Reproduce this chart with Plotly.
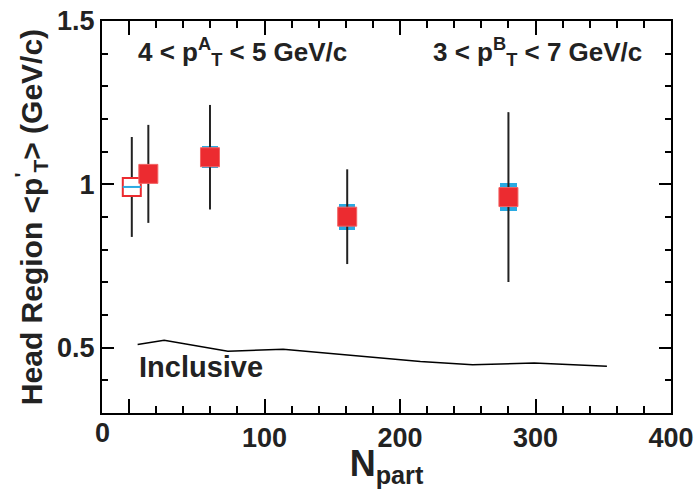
import plotly.graph_objects as go

# ---- data ----
PP_NPART = [2.0]
PP_PT = [0.992]
PP_STAT = [0.153]

AA_NPART = [14.2, 59.7, 161.0, 280.0]
AA_PT = [1.032, 1.083, 0.901, 0.961]
AA_STAT = [0.150, 0.160, 0.145, 0.260]
AA_SYS = [0.020, 0.034, 0.040, 0.044]

INCL_NPART = [6.3, 25.9, 72.9, 113.7, 215.0, 253.5, 299.0, 352.7]
INCL_PT = [0.510, 0.523, 0.489, 0.495, 0.458, 0.448, 0.453, 0.443]

X_TICKS = [0, 100, 200, 300, 400]
X_TICKTEXT = ["", "100", "200", "300", "400"]
Y_TICKS = [0.5, 1.0, 1.5]
Y_TICKTEXT = ["0.5", "1", "1.5"]

RED = "#EC2B30"
CYAN = "#2AAAE2"
INK = "#222222"
FONT = "Liberation Sans"

fig = go.Figure()

# systematic boxes
fig.add_trace(go.Bar(
    x=AA_NPART,
    y=[2 * s for s in AA_SYS],
    base=[v - s for v, s in zip(AA_PT, AA_SYS)],
    width=12,
    marker=dict(color=CYAN, line=dict(width=0)),
    showlegend=False, hoverinfo="skip",
))

# inclusive line
fig.add_trace(go.Scatter(
    x=INCL_NPART, y=INCL_PT, mode="lines",
    line=dict(color="black", width=1.5), showlegend=False,
))

# pp open square
fig.add_trace(go.Scatter(
    x=PP_NPART, y=PP_PT, mode="markers",
    marker=dict(symbol="square", size=18, color="white",
                line=dict(color=RED, width=2)),
    error_y=dict(type="data", array=PP_STAT, color=INK, thickness=2, width=0),
    showlegend=False,
))
fig.add_trace(go.Scatter(
    x=PP_NPART, y=PP_PT, mode="markers",
    marker=dict(symbol="line-ew-open", size=13, color=CYAN,
                line=dict(color=CYAN, width=2)),
    showlegend=False,
))

# Au+Au filled squares
fig.add_trace(go.Scatter(
    x=AA_NPART, y=AA_PT, mode="markers",
    marker=dict(symbol="square", size=19, color=RED,
                line=dict(color="#F26464", width=1)),
    error_y=dict(type="data", array=AA_STAT, color=INK, thickness=2, width=0),
    showlegend=False,
))

axis_common = dict(
    showline=True, linecolor="black", linewidth=2, mirror="ticks",
    ticks="inside", tickcolor="black", tickwidth=1.5,
    showgrid=False, zeroline=False, ticklabeloverflow="allow",
    automargin=False,
    tickfont=dict(family=FONT, size=27, color=INK, weight="bold"),
)

fig.update_layout(
    width=696, height=489,
    margin=dict(l=102, r=25, t=21, b=76, autoexpand=False),
    paper_bgcolor="white", plot_bgcolor="white",
    bargap=0,
    xaxis=dict(
        range=[-20, 400], tickvals=X_TICKS, ticktext=X_TICKTEXT,
        ticklen=14,
        minor=dict(dtick=20, tick0=0, ticklen=7, ticks="inside", tickcolor="black"),
        title=dict(text="N<sub>part</sub>", standoff=0,
                   font=dict(family=FONT, size=36, color=INK, weight="bold")),
        **axis_common,
    ),
    yaxis=dict(
        range=[0.3, 1.5], tickvals=Y_TICKS, ticktext=Y_TICKTEXT,
        ticklen=12,
        minor=dict(dtick=0.1, tick0=0.3, ticklen=6, ticks="inside", tickcolor="black"),
        title=dict(text="Head Region &lt;p<sup>'</sup><sub>T</sub>&gt; (GeV/c)", standoff=6,
                   font=dict(family=FONT, size=30, color=INK, weight="bold")),
        **axis_common,
    ),
    annotations=[
        dict(text="0", x=-20, y=0, xref="x", yref="paper", yanchor="top",
             xanchor="center", yshift=-3, showarrow=False,
             font=dict(family=FONT, size=27, color=INK, weight="bold")),
        dict(text="4 &lt; p<sup>A</sup><sub>T</sub> &lt; 5 GeV/c", x=0.06, y=0.921,
             xref="paper", yref="paper", xanchor="left", yanchor="middle",
             showarrow=False,
             font=dict(family=FONT, size=26, color=INK, weight="bold")),
        dict(text="3 &lt; p<sup>B</sup><sub>T</sub> &lt; 7 GeV/c", x=0.952, y=0.921,
             xref="paper", yref="paper", xanchor="right", yanchor="middle",
             showarrow=False,
             font=dict(family=FONT, size=26, color=INK, weight="bold")),
        dict(text="Inclusive", x=6.1, y=0.442, xref="x", yref="y",
             xanchor="left", yanchor="middle", showarrow=False,
             font=dict(family=FONT, size=29, color=INK, weight="bold")),
    ],
)

fig.write_html(
    "out.html",
    config={"displayModeBar": False},
    post_script="document.body.style.margin='0';document.body.style.overflow='hidden';",
)
